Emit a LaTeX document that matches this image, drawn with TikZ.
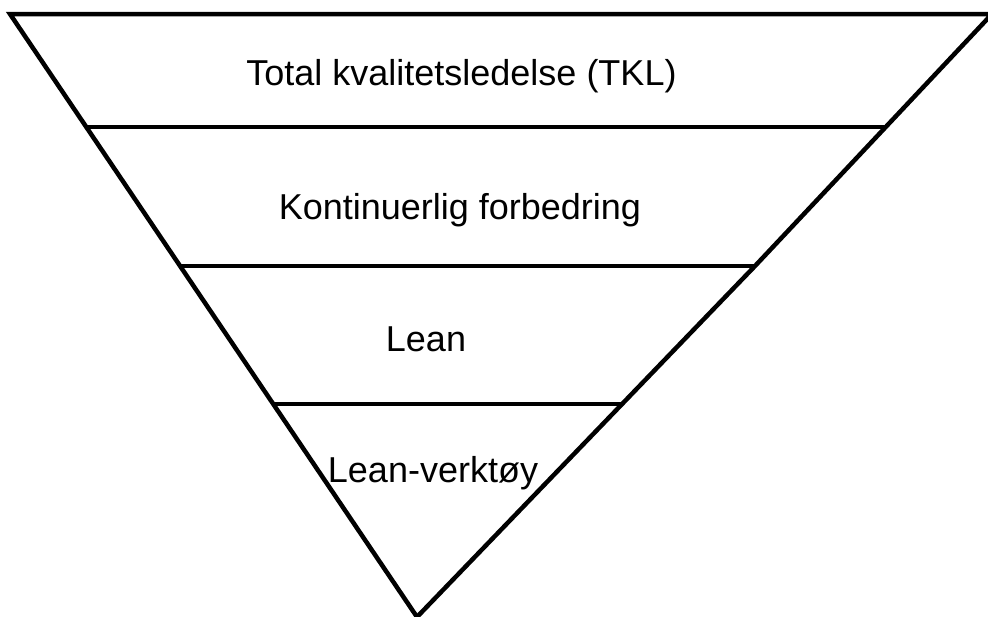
\documentclass[tikz,border=0pt]{standalone}
\usepackage{fontspec}
\setmainfont{Liberation Sans}
\usetikzlibrary{calc}
\begin{document}
\begin{tikzpicture}[x=1pt,y=-1pt,
  edge/.style={line width=4.5pt,black},
  band/.style={line width=4pt,black},
  lbl/.style={anchor=base,inner sep=0pt,font=\fontsize{36}{40}\selectfont}]
\useasboundingbox (0,0) rectangle (988,616);
\clip (0,0) rectangle (988,616);
\coordinate (TL) at (10,14);
\coordinate (TR) at (992,14);
\coordinate (RM) at (755,266);
\coordinate (AP) at (417,617);
\draw[edge,line join=miter] (TR) -- (TL) -- (AP) -- (RM) -- cycle;
\coordinate (L1) at (87,127);
\coordinate (R1) at (886,127);
\coordinate (L2) at (180.5,266);
\coordinate (R2) at (755,266);
\coordinate (L3) at (273.5,404);
\coordinate (R3) at (622,404);
\draw[band] (L1) -- (R1);
\draw[band] (L2) -- (R2);
\draw[band] (L3) -- (R3);
\node[lbl] (t1) at (461.5,85) {Total kvalitetsledelse (TKL)};
\node[lbl] (t2) at (460,219) {Kontinuerlig forbedring};
\node[lbl] (t3) at (426,351) {Lean};
\node[lbl] (t4) at (433,482) {Lean-verktøy};
\end{tikzpicture}
\end{document}
